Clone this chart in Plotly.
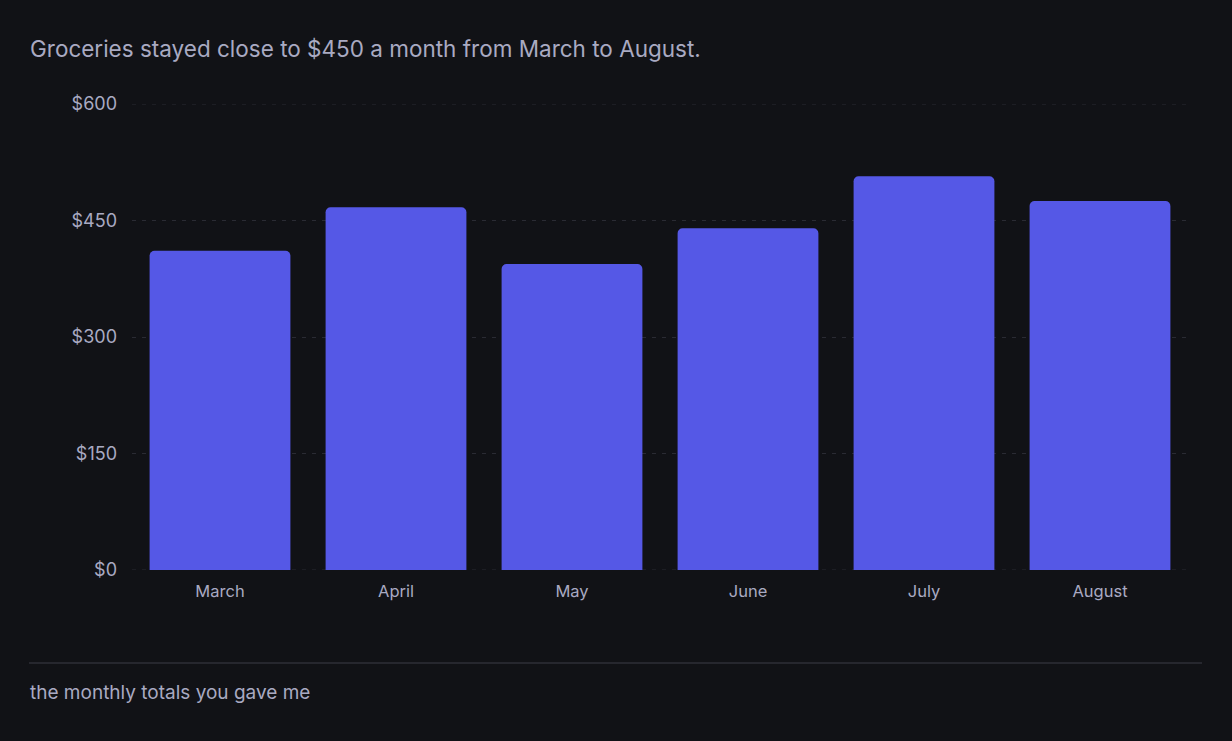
import plotly.graph_objects as go

months = ["March", "April", "May", "June", "July", "August"]
totals = [411, 467, 394, 440, 507, 475]
tick_values = [0, 150, 300, 450, 600]
tick_labels = ["$0", "$150", "$300", "$450", "$600"]

bg = "#111216"
text_color = "#a9aac2"
grid_color = "#2a2b33"

fig = go.Figure(
    go.Bar(
        x=months,
        y=totals,
        marker_color="#5558e6",
        marker_line_width=0,
        hovertemplate="%{x}: $%{y}<extra></extra>",
    )
)

fig.update_layout(
    width=1232,
    height=741,
    paper_bgcolor=bg,
    plot_bgcolor=bg,
    margin=dict(l=132, r=44, t=104, b=171),
    bargap=0.2,
    barcornerradius=5,
    font=dict(family="Inter, sans-serif", color=text_color, size=16),
    title=dict(
        text="Groceries stayed close to $450 a month from March to August.",
        font=dict(size=22.5, color=text_color),
        xref="container", yref="container",
        x=30 / 1232, y=1 - 49 / 741,
        xanchor="left", yanchor="middle",
    ),
    showlegend=False,
)

fig.update_xaxes(
    showgrid=False,
    showline=False,
    ticks="",
    ticklabelstandoff=9,
    tickfont=dict(size=16.5, color=text_color),
)
fig.update_yaxes(
    range=[0, 600],
    tickvals=tick_values,
    ticktext=tick_labels,
    showgrid=True,
    gridcolor=grid_color,
    griddash="4px,6px",
    gridwidth=1,
    zeroline=False,
    showline=False,
    ticks="",
    ticklabelstandoff=14,
    tickfont=dict(size=18, color=text_color),
)

# plotly skips gridlines sitting on the plot edges, so draw the first and last ones
for v in (tick_values[0], tick_values[-1]):
    fig.add_shape(
        type="line",
        xref="paper", yref="y",
        x0=0, x1=1, y0=v, y1=v,
        layer="below",
        line=dict(color=grid_color, width=1, dash="4px,6px"),
    )

fig.add_shape(
    type="line",
    xref="paper", yref="paper",
    x0=(29 - 132) / 1056, x1=(1202 - 132) / 1056,
    y0=-(663 - 570) / 466, y1=-(663 - 570) / 466,
    line=dict(color="#26272e", width=2),
)
fig.add_annotation(
    text="the monthly totals you gave me",
    xref="paper", yref="paper",
    x=(28 - 132) / 1056, y=-(692 - 570) / 466,
    xanchor="left", yanchor="middle",
    showarrow=False,
    font=dict(size=19, color=text_color),
)

fig.write_html(
    "out.html",
    config={"displayModeBar": False},
    post_script="document.body.style.margin='0';document.body.style.background='#111216';",
)
